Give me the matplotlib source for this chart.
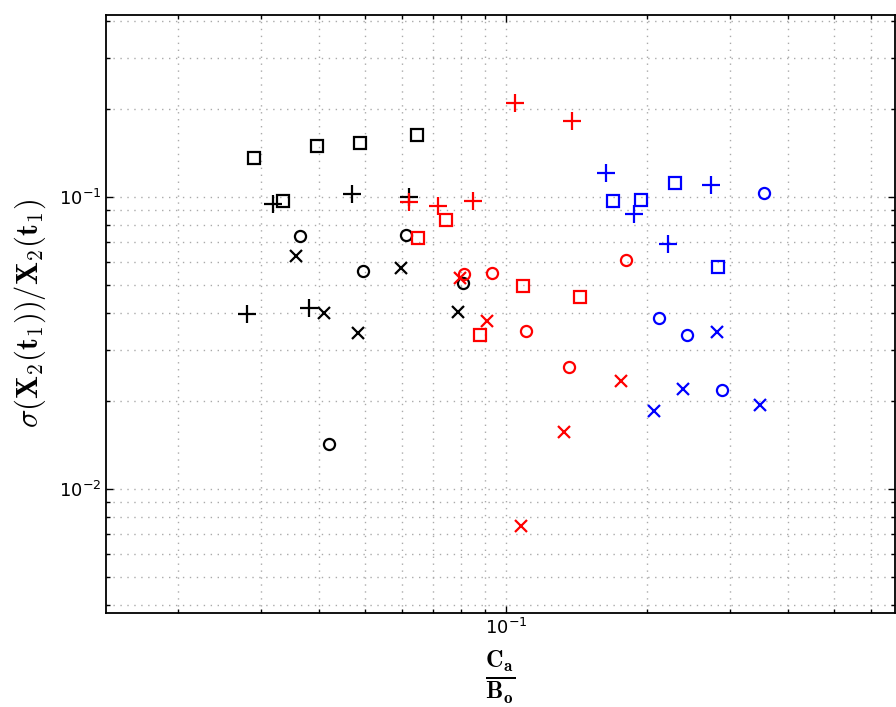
import numpy as np
import matplotlib
matplotlib.use('Agg')
import matplotlib.pyplot as plt
from matplotlib.ticker import LogLocator, NullFormatter

# data (x = Ca/Bo, y = sigma(X2)/X2)
blk_sq_x = [0.0290, 0.0395, 0.0488, 0.0646, 0.0335]
blk_sq_y = [0.1360, 0.1495, 0.1531, 0.1631, 0.0969]
blk_pl_x = [0.0319, 0.0470, 0.0621, 0.0280, 0.0380]
blk_pl_y = [0.0946, 0.1024, 0.1000, 0.0398, 0.0417]
blk_ci_x = [0.0364, 0.0612, 0.0496, 0.0810, 0.0420]
blk_ci_y = [0.0735, 0.0741, 0.0558, 0.0507, 0.0142]
blk_x_x = [0.0357, 0.0597, 0.0409, 0.0484, 0.0790]
blk_x_y = [0.0628, 0.0571, 0.0401, 0.0342, 0.0404]

red_pl_x = [0.1045, 0.1382, 0.0621, 0.0716, 0.0851]
red_pl_y = [0.2099, 0.1821, 0.0961, 0.0932, 0.0969]
red_sq_x = [0.0745, 0.0649, 0.1087, 0.1438, 0.0880]
red_sq_y = [0.0834, 0.0724, 0.0496, 0.0455, 0.0337]
red_ci_x = [0.0814, 0.0934, 0.1103, 0.1362, 0.1803]
red_ci_y = [0.0545, 0.0549, 0.0348, 0.0262, 0.0608]
red_x_x = [0.0798, 0.0911, 0.1759, 0.1330, 0.1076]
red_x_y = [0.0528, 0.0376, 0.0234, 0.0157, 0.00747]

blu_pl_x = [0.1633, 0.1875, 0.2215, 0.2736]
blu_pl_y = [0.1208, 0.0875, 0.0690, 0.1099]
blu_sq_x = [0.1690, 0.1940, 0.2292, 0.2831]
blu_sq_y = [0.0969, 0.0977, 0.1117, 0.0576]
blu_ci_x = [0.3549, 0.2120, 0.2431, 0.2888]
blu_ci_y = [0.1032, 0.0385, 0.0337, 0.0218]
blu_x_x = [0.2818, 0.2384, 0.2068, 0.3480]
blu_x_y = [0.0345, 0.0220, 0.0185, 0.0194]

fig = plt.figure(figsize=(8.96, 7.07), dpi=100)
ax = fig.add_axes([106/896, 1-613/707, (895-106)/896, (613-15)/707])

def pts(x, y, m, c, ms):
    ax.plot(x, y, linestyle='none', marker=m, color=c, mfc='none',
            mec=c, ms=ms, mew=1.6)

pts(blk_sq_x, blk_sq_y, 's', 'k', 9)
pts(blk_pl_x, blk_pl_y, '+', 'k', 13)
pts(blk_ci_x, blk_ci_y, 'o', 'k', 8)
pts(blk_x_x, blk_x_y, 'x', 'k', 8)
pts(red_pl_x, red_pl_y, '+', 'r', 13)
pts(red_sq_x, red_sq_y, 's', 'r', 9)
pts(red_ci_x, red_ci_y, 'o', 'r', 8)
pts(red_x_x, red_x_y, 'x', 'r', 8)
pts(blu_pl_x, blu_pl_y, '+', 'b', 13)
pts(blu_sq_x, blu_sq_y, 's', 'b', 9)
pts(blu_ci_x, blu_ci_y, 'o', 'b', 8)
pts(blu_x_x, blu_x_y, 'x', 'b', 8)

ax.set_xscale('log')
ax.set_yscale('log')
ax.set_xlim(0.01403, 0.675)
ax.set_ylim(0.00376, 0.42)

for a in (ax.xaxis, ax.yaxis):
    a.set_major_locator(LogLocator(base=10))
    a.set_minor_locator(LogLocator(base=10, subs=np.arange(2, 10)))
    a.set_minor_formatter(NullFormatter())
ax.tick_params(which='both', direction='in', top=True, right=True,
               labelsize=13, width=1)
ax.tick_params(which='major', length=5)
ax.tick_params(which='minor', length=3)
ax.grid(True, which='both', linestyle=(0, (1, 4)), color='#aaaaaa', lw=1)
ax.set_axisbelow(True)
for s in ax.spines.values():
    s.set_linewidth(1.3)

ax.set_xlabel(r'$\frac{\mathbf{C_a}}{\mathbf{B_o}}$', fontsize=25,
              math_fontfamily='cm', labelpad=8)
ax.set_ylabel(r'$\sigma(\mathbf{X}_2(\mathbf{t}_1))/\mathbf{X}_2(\mathbf{t}_1)$',
              fontsize=22, math_fontfamily='cm', labelpad=8)

plt.savefig('out.png', dpi=100)
